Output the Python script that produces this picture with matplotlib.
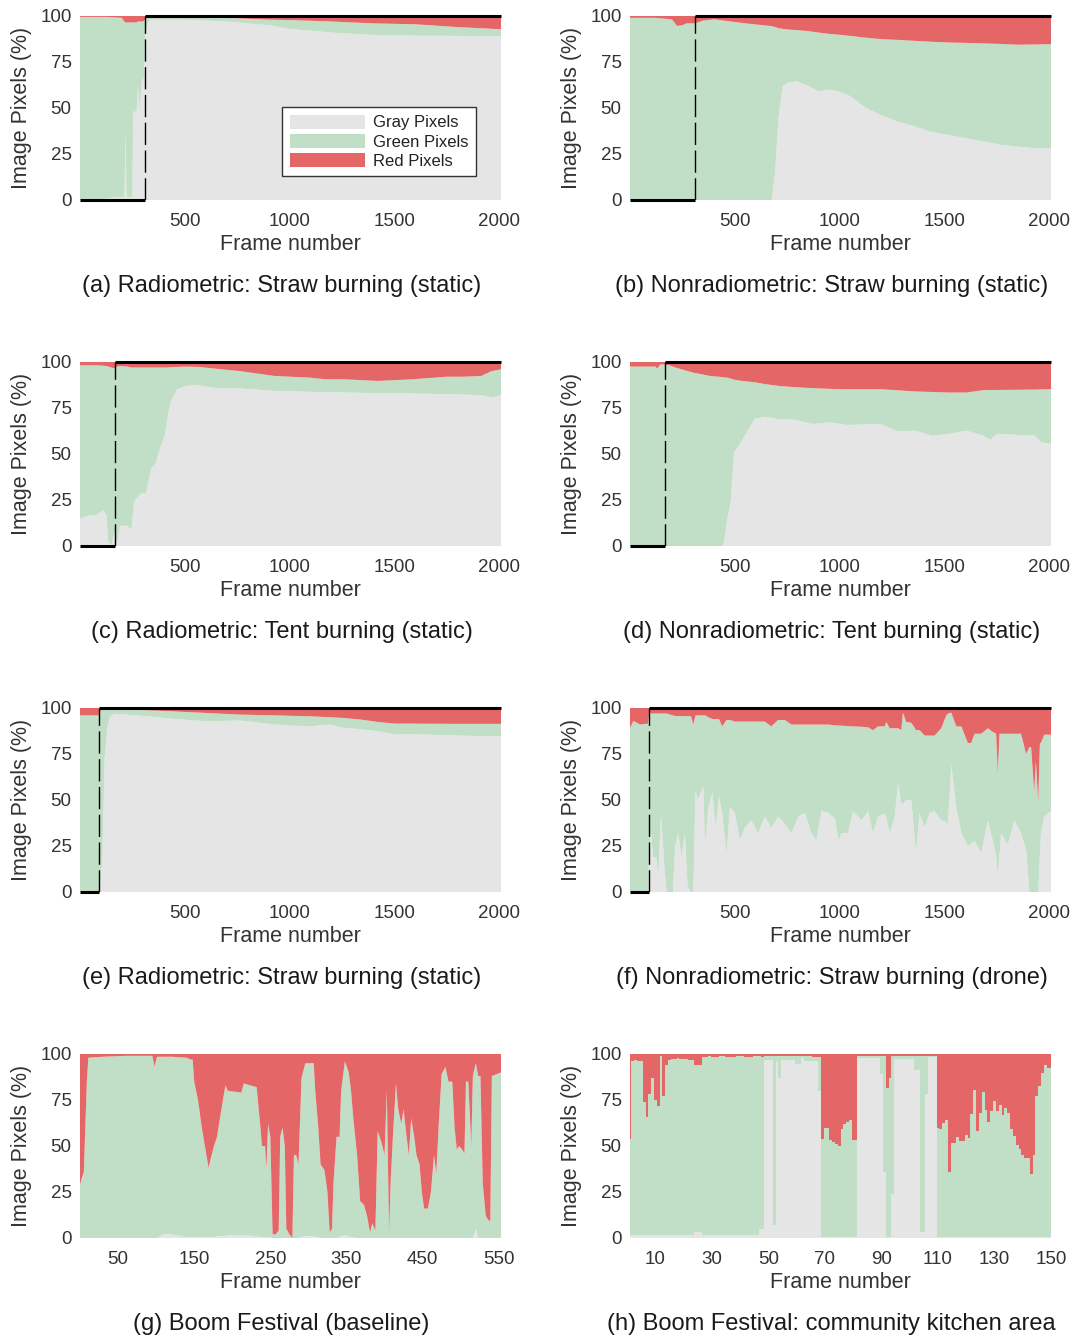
import matplotlib
matplotlib.use("Agg")
import matplotlib.pyplot as plt
import numpy as np

plt.rcParams['font.family'] = ['Liberation Sans', 'DejaVu Sans']

# colores de las tres clases de pixel
GRAY = '#e5e5e5'
GREEN = '#c1dec6'
RED = '#e56666'
TXT = '#333333'

# (a) Radiometric: Straw burning (static)
frames_a = [0, 100, 130, 200, 212, 218, 222, 250, 254, 270, 276, 285, 296, 305, 312, 325,
            340, 500, 700, 900, 1000, 1200, 1400, 1600, 1800, 2010]
gray_a = [0, 0, 1, 1.5, 1.5, 37, 1.5, 1.5, 48, 48, 62, 50, 65, 66, 90, 97,
          98, 98, 97, 95, 93, 91, 89.7, 89.3, 89.2, 89]
red_a = [0.5, 0.5, 0.5, 1, 3, 3.5, 3.5, 3.5, 3.5, 3.5, 3, 3, 3, 2.7, 1.5, 0.5,
         0.5, 0.5, 1, 2, 2.2, 3, 4, 4.5, 6, 7.2]

# (b) Nonradiometric: Straw burning (static)
frames_b = [0, 120, 200, 225, 250, 270, 310, 350, 400, 550, 676, 693, 709, 729, 760, 800,
            850, 900, 950, 1000, 1050, 1120, 1200, 1280, 1360, 1440, 1520, 1600, 1690,
            1770, 1850, 1930, 2010]
gray_b = [0, 0, 0, 0, 0, 0, 0, 0, 0, 0, 0, 15, 45, 62, 64, 64.5,
          62, 59, 60, 59, 56.5, 50.5, 46, 42.5, 40, 37, 35.4, 33.6, 31.8,
          30, 29, 28.2, 28.2]
red_b = [1, 1, 1.8, 5.4, 5, 4, 4, 2.5, 1.8, 4, 5.5, 6, 6.6, 7, 7.4, 7.7,
         8.2, 9, 9.7, 10.2, 10.8, 11.7, 12.6, 13, 13.5, 14, 14.4, 14.6, 14.9,
         15.2, 15.6, 15.5, 15.3]

# (c) Radiometric: Tent burning (static)
frames_c = [0, 40, 80, 110, 126, 135, 150, 165, 176, 192, 225, 245, 258, 290, 315, 323,
            340, 364, 381, 405, 422, 438, 463, 504, 569, 635, 766, 930, 1095, 1177,
            1259, 1423, 1587, 1751, 1833, 1915, 1964, 2010]
gray_c = [15, 16.5, 17, 19.5, 17, 2, 0.5, 7.7, 1, 11, 11, 8.6, 24, 28.5, 28.5, 33,
          42, 45.6, 52.8, 60, 72.6, 79.8, 85, 87, 87.4, 86, 85.6, 84.3, 83.8, 83.6,
          83.4, 83.1, 82.9, 82.5, 82.3, 82, 80.7, 82]
red_c = [1.8, 1.8, 1.8, 2, 2.2, 2.5, 3, 3.5, 2.5, 2.2, 2.5, 3, 3, 3, 3, 3,
         3, 3, 3, 3, 3, 2.8, 2.7, 2.5, 2.7, 3.5, 5, 7.6, 8.5, 9.4,
         9.4, 10.3, 9.4, 8, 8, 7.6, 5, 4]

# (d) Nonradiometric: Tent burning (static)
frames_d = [0, 122, 130, 145, 165, 187, 220, 302, 383, 440, 448, 465, 481, 497, 530, 562,
            595, 644, 709, 790, 872, 953, 1035, 1198, 1280, 1361, 1443, 1524, 1605,
            1687, 1720, 1752, 1850, 1931, 1964, 2010]
gray_d = [0, 0, 0, 0, 0, 0, 0, 0, 0, 0, 1.4, 15, 24, 51, 56.4, 62.7,
          69, 70.3, 69, 68.6, 66.3, 67.2, 65.8, 66.3, 62.2, 62.7, 60, 60.9, 62.7,
          60, 57.7, 60.9, 60.4, 60, 56.4, 55.5]
red_d = [2.5, 2.5, 3.6, 1.3, 1.3, 1.8, 3.1, 5.8, 7.6, 8.2, 8.4, 8.5, 9, 9.6, 10.2, 10.6,
         11, 12, 13, 13.7, 14.2, 14.6, 14.8, 14.8, 15.4, 16, 16.3, 16.6, 16.6,
         15.3, 15.2, 15.2, 15.1, 15, 14.9, 14.8]

# (e) Radiometric: Straw burning (static)
frames_e = [0, 90, 94, 100, 106, 112, 118, 130, 143, 167, 274, 438, 602, 766, 930, 1095,
            1193, 1259, 1341, 1423, 1505, 1587, 1751, 1915, 2010]
gray_e = [0, 0, 2, 12, 14, 45, 73, 89, 95.5, 96.8, 96, 94.2, 92.8, 93.2, 91, 90,
          91, 89.2, 88.5, 87.4, 85.6, 85.8, 85.2, 84.7, 84.7]
red_e = [4, 4, 1.4, 1.4, 1.2, 1, 1, 1, 1, 1, 1, 1.8, 2.7, 3.6, 4, 4.5,
         5, 5.4, 6.3, 7.6, 8.5, 8.5, 8.6, 8.6, 8.6]

# (f) Nonradiometric: Straw burning (drone)
frames_f = [0, 16, 48, 86, 91, 100, 110, 125, 135, 148, 164, 175, 205, 215, 230, 246,
            262, 275, 291, 302, 313, 323, 350, 358, 374, 393, 409, 425, 440, 461, 477,
            501, 525, 548, 580, 612, 644, 675, 707, 739, 771, 803, 835, 866, 890, 914,
            946, 978, 996, 1009, 1041, 1065, 1105, 1137, 1160, 1184, 1216, 1224, 1240,
            1264, 1280, 1295, 1303, 1319, 1343, 1366, 1382, 1407, 1430, 1454, 1486,
            1510, 1518, 1534, 1558, 1582, 1613, 1629, 1645, 1677, 1708, 1732, 1748,
            1756, 1764, 1772, 1804, 1836, 1867, 1891, 1907, 1915, 1930, 1938, 1949,
            1957, 1962, 1978, 2010]
gray_f = [0, 0, 0, 0, 19, 33, 19, 19, 8, 42, 14, 0, 0, 25, 32, 19,
          32, 3, 0, 0, 55, 50, 57, 26, 46, 54, 35, 52, 43, 21, 46,
          43, 28, 35, 39, 32, 41, 35, 41, 37, 32, 41, 43, 32, 28, 44,
          43, 40, 28, 32, 32, 44, 39, 44, 32, 41, 42.6, 40, 32,
          41, 59, 48, 48, 50, 50, 21, 43, 35, 43, 44, 39,
          38, 37, 69, 46, 32, 25, 26, 28, 21, 39, 28, 20,
          8.5, 20, 32, 26, 39, 32, 23, 0, 0, 0, 0, 0,
          20, 32, 41, 44]
red_f = [11, 7, 9, 8.5, 3, 3, 3, 3, 3, 3, 3, 3, 4, 4.4, 4.4, 4.4,
         4.4, 4.4, 4.4, 9, 4, 4, 4, 4, 5, 6, 6, 6, 10, 6.5, 6.5,
         7.4, 7.4, 7.4, 7.4, 7.4, 7.4, 10, 6.5, 6.5, 9, 9, 9, 9, 9, 9,
         9, 9.4, 9.5, 9.6, 9.8, 10, 10.2, 10.5, 12.1, 10, 10, 7.6, 11,
         11, 11, 12, 2.5, 7.6, 8, 12, 12, 15, 15, 15, 11,
         4, 3, 2.5, 10, 10, 19, 19, 14, 14, 11, 13, 14,
         35.5, 14, 14, 14, 14, 14, 25, 21.3, 21.3, 45.5, 29, 51,
         19, 19, 14.5, 14.5]

# (g) Boom Festival (baseline)
frames_g = [0, 2, 5, 7, 9, 11, 30, 60, 95, 98, 101, 110, 120, 140, 145, 148, 150, 155,
            160, 164, 169, 171, 176, 180, 185, 191, 194, 212, 215, 232, 237, 239, 243,
            245, 247, 250, 253, 257, 261, 263, 266, 269, 271, 275, 279, 281, 284, 287,
            291, 296, 307, 309, 313, 316, 321, 325, 328, 331, 333, 337, 341, 343, 348,
            353, 356, 359, 364, 368, 373, 377, 381, 384, 388, 391, 396, 400, 403, 406,
            408, 411, 415, 418, 422, 425, 429, 432, 435, 439, 442, 446, 449, 452, 457,
            461, 465, 468, 471, 475, 480, 484, 489, 492, 495, 498, 502, 505, 507, 510,
            514, 516, 520, 523, 526, 529, 533, 536, 539, 541, 547, 553]
gray_g = [0, 0, 0, 0, 0, 0, 0, 0, 0, 0, 0, 2, 2, 0.5, 0.5, 0.5, 0.5, 0.5,
          0.5, 0.5, 0.5, 0.5, 0.5, 1, 1, 1, 1.5, 1.5, 1.5, 1, 0.5, 0.5, 0.5,
          0.5, 0.5, 0.5, 0, 0, 0, 0, 0, 0, 0, 0, 0, 0, 0, 0,
          0.5, 1, 1, 0.5, 0.5, 0, 0, 0, 0, 0, 0, 0, 0.5, 1, 1.5,
          1, 0.5, 0.5, 0, 0, 0, 0, 0, 0, 0, 0, 0, 0, 0, 0,
          0, 0, 0, 0, 0, 0, 0, 0, 0, 0, 0, 0, 0, 0, 0,
          0, 0, 0, 0, 0, 0, 0, 0, 0, 0, 0, 0, 0, 0, 0,
          0, 0, 5, 0, 0, 0, 0, 0, 0, 0, 0, 0]
red_g = [71, 68, 64, 40, 15, 2, 1.5, 1, 1, 7, 1.5, 1.5, 1.5, 2, 3, 3, 15, 25,
         40, 50, 62, 58, 50, 45, 32, 17, 20, 21, 16, 18, 40, 50, 50,
         62, 38, 45, 98, 98, 96, 45, 40, 50, 95, 98, 100, 55, 55, 60,
         13, 5, 5, 20, 40, 60, 63, 75, 97, 95, 70, 45, 45, 20, 4,
         10, 20, 35, 55, 80, 82, 88, 97, 92, 96, 42, 48, 55, 20, 97,
         70, 45, 16, 30, 38, 30, 45, 55, 35, 45, 55, 60, 75, 84, 84,
         75, 55, 65, 40, 11, 7, 15, 15, 40, 52, 50, 52, 54, 15, 15,
         50, 12, 5, 12, 12, 70, 88, 90, 91, 12, 11, 10]

# (h) Boom Festival: community kitchen area, un valor por frame (1..150)
gray_h = [1.5, 1.5, 1.5, 1.5, 1.5, 1.5, 1.5, 1.5, 1.5, 1.5,
          1.5, 1.5, 1.5, 1.5, 1.5, 1.5, 1.5, 1.5, 1.5, 1.5,
          1.5, 1.5, 1.5, 3, 3, 3, 1.5, 1.5, 1.5, 1.5,
          1.5, 1.5, 1.5, 1.5, 1.5, 1.5, 1.5, 1.5, 1.5, 1.5,
          1.5, 1.5, 1.5, 1.5, 1.5, 1.5, 5, 5, 97, 97,
          97, 7, 96, 87, 96.5, 96.5, 96.5, 96.5, 96.5, 94.5,
          94.5, 98, 96, 96, 96, 96, 96, 80, 0.5, 0.5,
          0.5, 0.5, 0.5, 0.5, 0.5, 0.5, 0.5, 0.5, 0.5, 0.5,
          0.5, 98, 98, 98, 98, 98, 98, 98, 98, 89,
          36, 0.5, 0.5, 24, 97.5, 97.5, 97.5, 97.5, 97.5, 97.5,
          97.5, 91.5, 91.5, 3, 3, 78, 98.5, 98.5, 98.5, 0.5,
          0.5, 0.5, 0.5, 0.5, 0.5, 0.5, 0.5, 0.5, 0.5, 0.5,
          0.5, 0.5, 0.5, 0.5, 0.5, 0.5, 0.5, 0.5, 0.5, 0.5,
          0.5, 0.5, 0.5, 0.5, 0.5, 0.5, 0.5, 0.5, 0.5, 0.5,
          0.5, 0.5, 0.5, 0.5, 0.5, 0.5, 0.5, 0.5, 0.5, 0.5]
red_h = [46, 4, 3.5, 4, 4, 26, 34, 22, 13, 25,
         28, 1, 23, 6, 3, 2.5, 2.5, 2, 2.5, 2.5,
         2.5, 3, 3, 6, 6, 6, 1.5, 1.5, 1, 1.5,
         1.5, 1.5, 1, 1, 1.5, 1.5, 1.5, 1.5, 1, 1,
         1, 1.5, 1.5, 1.5, 1, 1, 1, 1.5, 1, 1,
         1, 1, 1, 1, 1, 1, 1, 1, 1, 1,
         1, 1, 1, 1, 1, 1.5, 1.5, 1.5, 46, 40,
         40, 47, 48, 49, 50, 41, 38, 37, 36, 47,
         47, 1, 1, 1, 1, 1, 1, 1, 1, 1,
         1, 18.5, 13, 1, 1, 1, 1, 1, 1, 1,
         1, 1, 1, 1, 1, 1, 1, 1, 1, 40,
         41, 37.5, 36, 64, 48.4, 48.4, 45.3, 47.5, 47.5, 44.2,
         45.7, 32.6, 19.4, 41.7, 32, 20.7, 30.3, 37, 31.2, 25.7,
         31.2, 27.5, 33, 29.4, 32, 41, 44.7, 49.6, 51.4, 55,
         56.5, 56.5, 65.2, 54.7, 23, 17.6, 10.3, 5.8, 7.6, 7.6]
frames_h = np.arange(1, len(gray_h) + 1)

ticks_long = [500, 1000, 1500, 2000]
ticks_g = [50, 150, 250, 350, 450, 550]
ticks_h = [10, 30, 50, 70, 90, 110, 130, 150]

captions = ['(a) Radiometric: Straw burning (static)',
            '(b) Nonradiometric: Straw burning (static)',
            '(c) Radiometric: Tent burning (static)',
            '(d) Nonradiometric: Tent burning (static)',
            '(e) Radiometric: Straw burning (static)',
            '(f) Nonradiometric: Straw burning (drone)',
            '(g) Boom Festival (baseline)',
            '(h) Boom Festival: community kitchen area']


def plot_panel(ax, frames, gray, red, xlim, xticks, onset=None, step=None):
    gray = np.asarray(gray, dtype=float)
    red = np.asarray(red, dtype=float)
    green = 100 - gray - red
    ax.stackplot(frames, gray, green, red, colors=[GRAY, GREEN, RED],
                 labels=['Gray Pixels', 'Green Pixels', 'Red Pixels'],
                 linewidth=0, step=step)
    if onset is not None:
        ax.plot([xlim[0], onset], [0, 0], color='black', lw=2.2,
                solid_capstyle='butt', clip_on=False, zorder=5)
        ax.plot([onset, xlim[1]], [100, 100], color='black', lw=2.2,
                solid_capstyle='butt', clip_on=False, zorder=5)
        ax.plot([onset, onset], [0, 100], color='black', lw=1.0,
                dashes=(16, 4), zorder=5)
    ax.set_xlim(*xlim)
    ax.set_ylim(0, 100)
    ax.set_xticks(xticks)
    ax.set_yticks([0, 25, 50, 75, 100])
    for s in ax.spines.values():
        s.set_visible(False)
    ax.tick_params(length=0, labelsize=13.5, labelcolor=TXT)
    ax.tick_params(axis='x', pad=9.5)
    ax.tick_params(axis='y', pad=6)
    ax.set_xlabel('Frame number', fontsize=15.5, color=TXT, labelpad=2.5)
    ax.set_ylabel('Image Pixels (%)', fontsize=15.5, color=TXT, labelpad=6)


W, H = 1077, 1336
fig = plt.figure(figsize=(W / 100, H / 100), dpi=100)

col_x = [80, 630]
row_top = [16, 362, 708, 1054]
ax_w, ax_h = 421, 184

axes = []
for r in range(4):
    for c in range(2):
        ax = fig.add_axes([col_x[c] / W, 1 - (row_top[r] + ax_h) / H, ax_w / W, ax_h / H])
        axes.append(ax)

long_lim = (0, 2010)
plot_panel(axes[0], frames_a, gray_a, red_a, long_lim, ticks_long, onset=310)
plot_panel(axes[1], frames_b, gray_b, red_b, long_lim, ticks_long, onset=310)
plot_panel(axes[2], frames_c, gray_c, red_c, long_lim, ticks_long, onset=165)
plot_panel(axes[3], frames_d, gray_d, red_d, long_lim, ticks_long, onset=165)
plot_panel(axes[4], frames_e, gray_e, red_e, long_lim, ticks_long, onset=90)
plot_panel(axes[5], frames_f, gray_f, red_f, long_lim, ticks_long, onset=90)
plot_panel(axes[6], frames_g, gray_g, red_g, (0, 553), ticks_g)
plot_panel(axes[7], frames_h, gray_h, red_h, (1, 150), ticks_h, step='mid')

leg = axes[0].legend(loc='upper right', bbox_to_anchor=(0.941, 0.505), fontsize=12,
                     frameon=True, fancybox=False, edgecolor='#333333', framealpha=1,
                     handlelength=4.5, handleheight=0.95, handletextpad=0.5,
                     borderpad=0.45, labelspacing=0.2, borderaxespad=0)
leg.get_frame().set_linewidth(1.0)
for t in leg.get_texts():
    t.set_color('#222222')

cap_x = [281.5, 831.5]
cap_y = [286, 632, 978, 1324]
for i, text in enumerate(captions):
    fig.text(cap_x[i % 2] / W, 1 - cap_y[i // 2] / H, text, ha='center', va='center',
             fontsize=17, color='#1a1a1a')

fig.savefig('out.png', dpi=100)
